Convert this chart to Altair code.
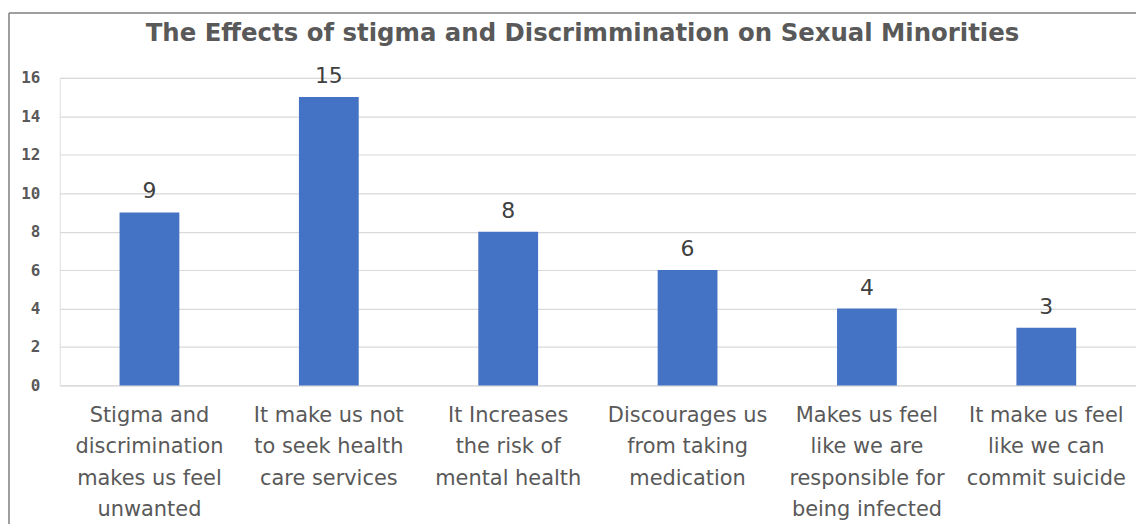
import altair as alt
import pandas as pd

categories = [
    "Stigma and|discrimination|makes us feel|unwanted",
    "It make us not|to seek health|care services",
    "It Increases|the risk of|mental health",
    "Discourages us|from taking|medication",
    "Makes us feel|like we are|responsible for|being infected",
    "It make us feel|like we can|commit suicide",
]
values = [9, 15, 8, 6, 4, 3]
y_ticks = [0, 2, 4, 6, 8, 10, 12, 14, 16]
title_text = ["The Effects of stigma and Discrimmination on Sexual Minorities"]

df = pd.DataFrame({"cat": categories, "val": values})
tdf = pd.DataFrame({"t": title_text})

GRAY = "#595959"
FONT = "DejaVu Sans"

x_enc = alt.X(
    "cat:N",
    sort=categories,
    title=None,
    scale=alt.Scale(paddingInner=2 / 3, paddingOuter=1 / 3),
    axis=alt.Axis(
        labelExpr="split(datum.label, '|')",
        labelAngle=0,
        labelFont=FONT,
        labelFontSize=21,
        labelColor=GRAY,
        labelLineHeight=31.5,
        labelPadding=19,
        labelBaseline="top",
        ticks=False,
        domain=False,
        grid=False,
        labelLimit=300,
        labelOverlap=False,
    ),
)
y_enc = alt.Y(
    "val:Q",
    title=None,
    scale=alt.Scale(domain=[0, 16], nice=False),
    axis=alt.Axis(
        values=y_ticks,
        labelFont="DejaVu Sans Mono",
        labelFontSize=16,
        labelColor=GRAY,
        labelFontWeight="bold",
        labelPadding=20,
        labelOverlap=False,
        ticks=False,
        domain=False,
        gridColor="#d9d9d9",
        gridWidth=1.2,
    ),
)

bars = alt.Chart(df).mark_bar(color="#4472c4").encode(x=x_enc, y=y_enc)
labels = alt.Chart(df).mark_text(
    baseline="bottom", dy=-9, font=FONT, fontSize=22, color="#404040"
).encode(x=x_enc, y=y_enc, text="val:Q")

title = alt.Chart(tdf).mark_text(
    font=FONT, fontSize=24.5, fontWeight="bold", color=GRAY, baseline="middle", align="center"
).encode(x=alt.value(525), y=alt.value(-44), text="t:N")

frame_left = alt.Chart(tdf).mark_rule(color="#7f7f7f", strokeWidth=1.5).encode(
    x=alt.value(-51), y=alt.value(-65), y2=alt.value(470)
)
frame_top = alt.Chart(tdf).mark_rule(color="#7f7f7f", strokeWidth=1.5).encode(
    x=alt.value(-51), x2=alt.value(1090), y=alt.value(-65)
)

chart = (
    alt.layer(bars, labels, title, frame_left, frame_top)
    .properties(
        width=1081,
        height=309,
        autosize=alt.AutoSizeParams(type="none"),
        padding={"left": 52, "top": 69, "right": 0, "bottom": 138},
    )
    .configure_view(stroke=None)
    .configure(background="white")
)

chart.save("out.html", embed_options={"renderer": "svg", "actions": False})
